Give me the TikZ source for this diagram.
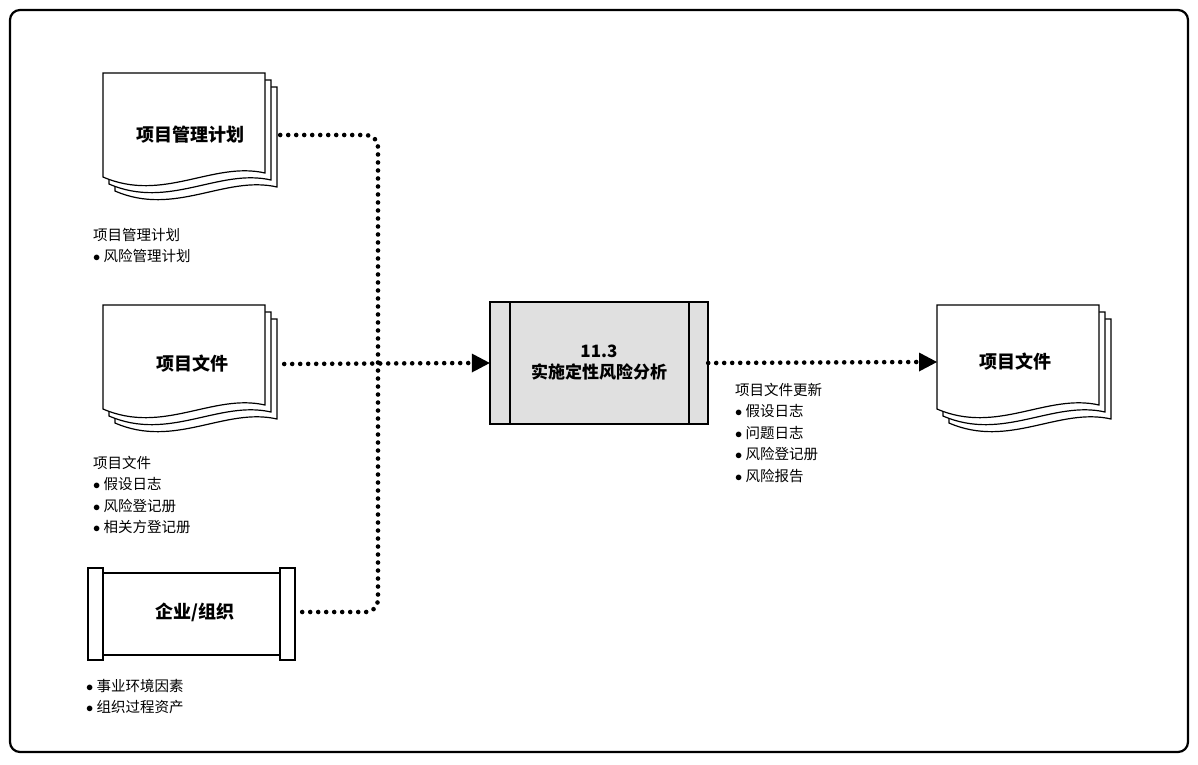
\documentclass[tikz,border=0pt]{standalone}
\usepackage{fontspec}
\setmainfont{Noto Sans CJK SC}
\usetikzlibrary{arrows.meta,positioning}

% one sheet of a document stack, local origin at its top left
\newcommand{\docsheet}[2]{%
  \draw[line width=1.2pt,fill=white] (#1,#2) -- (#1+162,#2) -- (#1+162,#2+100)
    .. controls (#1+110,#2+88) and (#1+60,#2+130) .. (#1,#2+104) -- cycle;}
\newcommand{\docstack}[2]{%
  \docsheet{#1+12}{#2+14}\docsheet{#1+6}{#2+7}\docsheet{#1}{#2}}
\newcommand{\bul}{$\bullet$\ }

\tikzset{
  label/.style={font=\fontsize{18}{21}\selectfont\bfseries},
  note/.style={font=\fontsize{14.5}{21.5}\selectfont,align=left,anchor=north west,inner sep=0pt},
  hold/.style={minimum width=#1,minimum height=60,inner sep=0pt},
  flow/.style={line width=4.6pt,dash pattern=on 0pt off 8pt,line cap=round},
}
\newcommand{\tiphead}[1]{\fill ([xshift=-18pt]#1) -- ++(0,-9.5) -- (#1) -- ++(-18,9.5) -- cycle;}

\begin{document}
\begin{tikzpicture}[x=1pt,y=-1pt]
\useasboundingbox (0,0) rectangle (1198,764);
\draw[line width=2.2pt,rounded corners=10pt] (10,10) rectangle (1188,752);

% document stacks
\docstack{103}{73}
\docstack{103}{305}
\docstack{937}{305}
\node[label,hold=180] (plan) at (190,135) {项目管理计划};
\node[label,hold=184] (files) at (192,364) {项目文件};
\node[label] (outfiles) at (1015,362) {项目文件};
\coordinate (outin) at (937,362);

% scroll for enterprise
\draw[line width=1.2pt,fill=white] (103,573) rectangle (280,655);
\draw[line width=1.2pt,fill=white] (88,568) rectangle (103,660);
\draw[line width=1.2pt,fill=white] (280,568) rectangle (295,660);
\node[label,hold=214] (org) at (195,612) {企业/组织};

% process
\draw[line width=1.2pt,fill=black!12] (490,302) rectangle (708,424);
\draw[line width=1.2pt] (510,302) -- (510,424) (689,302) -- (689,424);
\node[label,font=\fontsize{17}{21}\selectfont\bfseries,align=center,
  minimum width=218,minimum height=122,inner sep=0pt] (proc) at (599,363) {11.3\\实施定性风险分析};

% notes
\node[note] (plannote) at (93,228) {项目管理计划\\\bul 风险管理计划};
\node[note] (filesnote) at (93,456) {项目文件\\\bul 假设日志\\\bul 风险登记册\\\bul 相关方登记册};
\node[note] (orgnote) at (86,679) {\bul 事业环境因素\\\bul 组织过程资产};
\node[note] (outnote) at (735,383) {项目文件更新\\\bul 假设日志\\\bul 问题日志\\\bul 风险登记册\\\bul 风险报告};

% connectors
\coordinate (jn) at (378,362);
\draw[flow,rounded corners=12pt] (plan.east) -| (jn);
\draw[flow,rounded corners=12pt] (org.east) -| (jn);
\draw[flow] (files.east) -- ([xshift=-20pt]proc.west);
\tiphead{proc.west}
\draw[flow] (proc.east) -- ([xshift=-20pt]outin);
\tiphead{outin}
\end{tikzpicture}
\end{document}
